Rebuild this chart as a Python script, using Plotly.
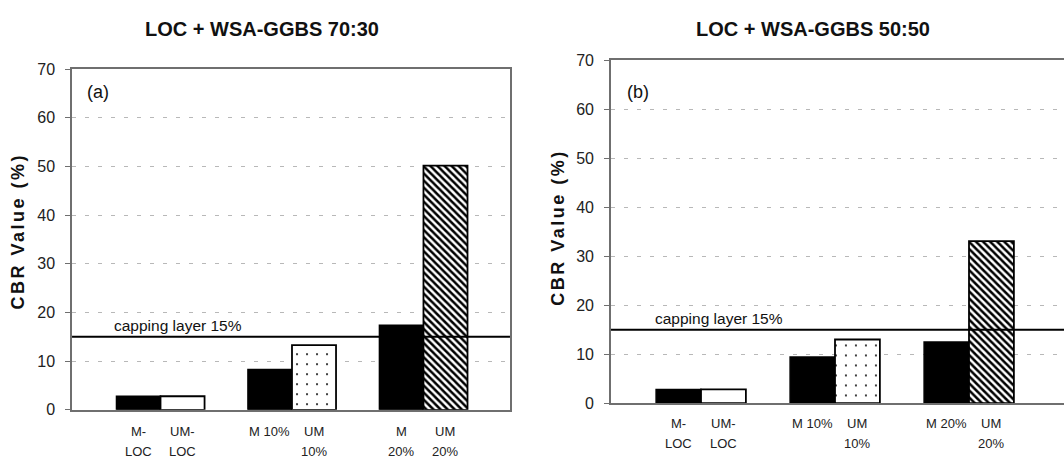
import plotly.graph_objects as go

# CBR results for LOC stabilised with WSA-GGBS blends
group_pos = [1, 2, 3]
m_labels = [("M-", "LOC"), ("M 10%", ""), ("M", "20%")]
um_labels = [("UM-", "LOC"), ("UM", "10%"), ("UM", "20%")]
m_labels_b = [("M-", "LOC"), ("M 10%", ""), ("M 20%", "")]
um_labels_b = [("UM-", "LOC"), ("UM", "10%"), ("UM", "20%")]

m_cbr_7030 = [2.8, 8.3, 17.4]
um_cbr_7030 = [2.8, 13.3, 50.2]
m_cbr_5050 = [2.8, 9.4, 12.5]
um_cbr_5050 = [2.8, 13.0, 33.1]

um_patterns = ["", ".", "\\"]
capping_limit = 15
panel_titles = ["LOC + WSA-GGBS 70:30", "LOC + WSA-GGBS 50:50"]
panel_tags = ["(a)", "(b)"]
y_ticks = [0, 10, 20, 30, 40, 50, 60, 70]

FONT = "Liberation Sans, Arial, sans-serif"
BAR_W = 0.335
FRAME = "#6f6f6f"

fig = go.Figure()

panels = [
    dict(x="x", y="y", m=m_cbr_7030, um=um_cbr_7030, ml=m_labels, ul=um_labels,
         xdom=[0.0677, 0.4793], ydom=[0.1109, 0.8646], xr=[0.327, 3.658],
         row1=439, row2=460, title_x=0.2467, cap_x=0.63, ytitle=(18, 232)),
    dict(x="x2", y="y2", m=m_cbr_5050, um=um_cbr_5050, ml=m_labels_b, ul=um_labels_b,
         xdom=[0.5742, 1.0], ydom=[0.1258, 0.884], xr=[0.328, 3.709],
         row1=431, row2=452, title_x=0.7641, cap_x=0.64, ytitle=(558, 228)),
]

H = 469
W = 1064

for i, p in enumerate(panels):
    fig.add_trace(go.Bar(
        x=group_pos, y=p["m"], xaxis=p["x"], yaxis=p["y"],
        width=BAR_W, offset=-BAR_W,
        marker=dict(color="black", line=dict(color="black", width=1.5)),
        showlegend=False, hoverinfo="y",
    ))
    fig.add_trace(go.Bar(
        x=group_pos, y=p["um"], xaxis=p["x"], yaxis=p["y"],
        width=BAR_W, offset=0,
        marker=dict(color="white", line=dict(color="black", width=1.8),
                    pattern=dict(shape=um_patterns, fgcolor="black", bgcolor="white",
                                 size=[10, 10, 5], solidity=[0.3, 0.03, 0.5],
                                 fillmode="replace")),
        showlegend=False, hoverinfo="y",
    ))

    # capping layer threshold
    fig.add_shape(type="line", xref=f"{p['x']} domain", yref=p["y"],
                  x0=0, x1=1, y0=capping_limit, y1=capping_limit,
                  line=dict(color="black", width=2))
    fig.add_annotation(xref=p["x"], yref=p["y"], x=p["cap_x"], y=capping_limit,
                       text=f"capping layer {capping_limit}%", showarrow=False,
                       xanchor="left", yanchor="bottom", yshift=1,
                       font=dict(family=FONT, size=15.5, color="#111"))

    # category labels under each bar
    for gx, ml, ul in zip(group_pos, p["ml"], p["ul"]):
        for cx, lines in ((gx - BAR_W / 2, ml), (gx + BAR_W / 2, ul)):
            for txt, row in zip(lines, (p["row1"], p["row2"])):
                if txt:
                    fig.add_annotation(xref=p["x"], yref="paper", x=cx, y=1 - row / H,
                                       text=txt, showarrow=False, xanchor="center",
                                       yanchor="middle",
                                       font=dict(family=FONT, size=13, color="#222"))

    # panel title and tag
    fig.add_annotation(xref="paper", yref="paper", x=p["title_x"], y=1 - 22 / H,
                       text=f"<b>{panel_titles[i]}</b>", showarrow=False,
                       xanchor="center", yanchor="middle",
                       font=dict(family=FONT, size=20, color="#111"))
    fig.add_annotation(xref=f"{p['x']} domain", yref="paper", x=0.03, y=1 - 87 / H,
                       text=panel_tags[i], showarrow=False, xanchor="left",
                       yanchor="middle", font=dict(family=FONT, size=18, color="#111"))
    fig.add_annotation(xref="paper", yref="paper", x=p["ytitle"][0] / W,
                       y=1 - p["ytitle"][1] / H,
                       text='<b><span style="letter-spacing:2.5px">CBR Value (%)</span></b>',
                       textangle=-90, showarrow=False, xanchor="center", yanchor="middle",
                       font=dict(family=FONT, size=18, color="#111"))

    xa = dict(domain=p["xdom"], range=p["xr"], showgrid=False, zeroline=False,
              showticklabels=False, ticks="", showline=True, mirror=True,
              linecolor=FRAME, linewidth=1.5, fixedrange=True)
    ya = dict(domain=p["ydom"], range=[0, 70], tickvals=y_ticks, showgrid=True,
              gridcolor="#b8b8b8", griddash="4px,9px", gridwidth=1, zeroline=False,
              ticks="outside", ticklen=5, tickcolor=FRAME, showline=True,
              mirror=(i == 0), linecolor=FRAME, linewidth=1.5,
              ticklabelstandoff=7,
              tickfont=dict(family=FONT, size=16, color="#222"), fixedrange=True)
    if i == 0:
        fig.update_layout(xaxis=xa, yaxis=dict(anchor="x", **ya))
    else:
        fig.update_layout(xaxis2=dict(anchor="y2", **xa), yaxis2=dict(anchor="x2", **ya))

fig.update_layout(
    width=W, height=H, margin=dict(l=0, r=0, t=0, b=0),
    paper_bgcolor="white", plot_bgcolor="white", barmode="overlay",
    font=dict(family=FONT),
)

fig.write_html("out.html")
